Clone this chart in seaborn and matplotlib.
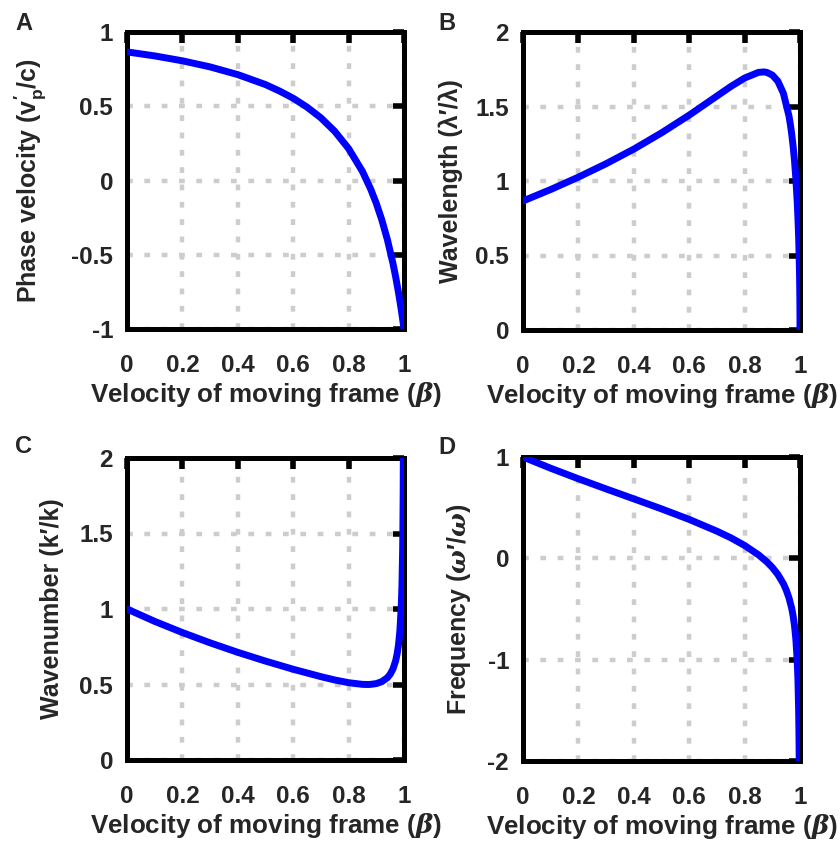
import numpy as np
import pandas as pd
import matplotlib
matplotlib.use("Agg")
import matplotlib.pyplot as plt
import seaborn as sns

# ---- data ----
beta_a = [0, 0.1, 0.2, 0.3, 0.4, 0.5, 0.55, 0.6, 0.65, 0.7, 0.75, 0.8, 0.85, 0.88, 0.9,
          0.92, 0.94, 0.96, 0.97, 0.98, 0.985, 0.99, 0.995, 0.997, 1.0]
phase_vel = [0.866, 0.839, 0.806, 0.765, 0.713, 0.646, 0.603, 0.554, 0.494, 0.422, 0.331,
             0.215, 0.061, -0.059, -0.154, -0.266, -0.398, -0.557, -0.650, -0.753, -0.810,
             -0.869, -0.933, -0.959, -1.0]

beta_b = [0, 0.1, 0.2, 0.3, 0.4, 0.5, 0.6, 0.7, 0.75, 0.8, 0.85, 0.87, 0.88, 0.9, 0.92,
          0.94, 0.96, 0.965, 0.97, 0.975, 0.98, 0.985, 0.99, 0.9925, 0.995, 0.996, 0.998,
          0.9985, 0.999, 0.9995, 0.9999, 1.0]
wavelength = [0.866, 0.943, 1.026, 1.116, 1.214, 1.323, 1.442, 1.570, 1.634, 1.691, 1.729,
              1.732, 1.729, 1.711, 1.670, 1.589, 1.438, 1.382, 1.316, 1.236, 1.140, 1.017,
              0.857, 0.753, 0.626, 0.563, 0.403, 0.350, 0.287, 0.204, 0.091, 0.0]

beta_c = [0, 0.1, 0.2, 0.3, 0.4, 0.5, 0.6, 0.7, 0.75, 0.8, 0.85, 0.87, 0.88, 0.9, 0.92,
          0.94, 0.95, 0.96, 0.97, 0.975, 0.98, 0.985, 0.99, 0.9925, 0.995, 0.996, 0.997, 0.998]
wavenumber = [1.0, 0.918, 0.844, 0.776, 0.713, 0.655, 0.601, 0.552, 0.530, 0.512, 0.501,
              0.500, 0.501, 0.506, 0.519, 0.545, 0.568, 0.602, 0.658, 0.701, 0.760, 0.852,
              1.011, 1.150, 1.384, 1.538, 1.764, 2.147]

beta_d = [0, 0.1, 0.2, 0.3, 0.4, 0.5, 0.6, 0.7, 0.75, 0.8, 0.85, 0.88, 0.9, 0.92, 0.94,
          0.95, 0.96, 0.97, 0.975, 0.98, 0.985, 0.99, 0.9925, 0.995, 0.996, 0.9965, 0.997, 0.998]
frequency = [1.0, 0.889, 0.785, 0.685, 0.587, 0.488, 0.384, 0.268, 0.203, 0.127, 0.035,
             -0.034, -0.090, -0.159, -0.250, -0.311, -0.388, -0.493, -0.566, -0.661, -0.796,
             -1.015, -1.195, -1.490, -1.680, -1.802, -1.954, -2.41]

x_ticks = [0, 0.2, 0.4, 0.6, 0.8, 1]
x_ticklabels = ["0", "0.2", "0.4", "0.6", "0.8", "1"]

yticks_a = [-1, -0.5, 0, 0.5, 1]
yticklabels_a = ["-1", "-0.5", "0", "0.5", "1"]
yticks_b = [0, 0.5, 1, 1.5, 2]
yticklabels_b = ["0", "0.5", "1", "1.5", "2"]
yticks_c = [0, 0.5, 1, 1.5, 2]
yticklabels_c = ["0", "0.5", "1", "1.5", "2"]
yticks_d = [-2, -1, 0, 1]
yticklabels_d = ["-2", "-1", "0", "1"]

panel_letters = ["A", "B", "C", "D"]
xlabel = r"Velocity of moving frame ($\mathit{\beta}$)"
ylabels = [r"Phase velocity (v$^{\prime}_{p}$/c)",
           "Wavelength (λ′/λ)",
           "Wavenumber (k′/k)",
           r"Frequency ($\mathit{\omega}$′/$\mathit{\omega}$)"]

# ---- style ----
sns.set_style("white")
plt.rcParams["font.family"] = ["Liberation Sans", "DejaVu Sans"]
plt.rcParams["font.weight"] = "bold"
plt.rcParams["mathtext.fontset"] = "custom"
plt.rcParams["mathtext.rm"] = "Liberation Sans:bold"
plt.rcParams["mathtext.bf"] = "Liberation Sans:bold"
plt.rcParams["mathtext.it"] = "DejaVu Serif:italic"
plt.rcParams["mathtext.default"] = "rm"

fig = plt.figure(figsize=(8.4, 8.41), dpi=100)

W, H = 840.0, 841.0
boxes = [(127, 32, 404, 329), (523, 32, 800, 330), (127, 458, 404, 760), (523, 457, 800, 761)]
ylabel_x = [30, 451, 52, 459]
axes = []
for (x0, y0, x1, y1) in boxes:
    axes.append(fig.add_axes([x0 / W, 1 - y1 / H, (x1 - x0) / W, (y1 - y0) / H]))

datasets = [
    (beta_a, phase_vel, (-1, 1), yticks_a, yticklabels_a),
    (beta_b, wavelength, (0, 2), yticks_b, yticklabels_b),
    (beta_c, wavenumber, (0, 2), yticks_c, yticklabels_c),
    (beta_d, frequency, (-2, 1), yticks_d, yticklabels_d),
]

FS = 17.5
for i, (ax, (bx, vals, ylim, yt, ytl)) in enumerate(zip(axes, datasets)):
    df = pd.DataFrame({"beta": bx, "value": vals})
    ax.grid(True, linestyle=(0, (1.3, 2.6)), color="#cdcdcd", linewidth=3.2, zorder=0)
    sns.lineplot(data=df, x="beta", y="value", ax=ax, color="#0000ff", linewidth=5,
                 estimator=None, sort=True, zorder=3)
    ax.set_xlim(0, 1)
    ax.set_ylim(*ylim)
    ax.set_xticks(x_ticks)
    ax.set_xticklabels(x_ticklabels)
    ax.set_yticks(yt)
    ax.set_yticklabels(ytl)
    ax.tick_params(direction="in", length=8, width=4, top=True, right=True,
                   labelsize=FS, color="black")
    ax.tick_params(axis="x", pad=18)
    ax.tick_params(axis="y", pad=10)
    for lab in ax.get_xticklabels() + ax.get_yticklabels():
        lab.set_fontweight("bold")
    for sp in ax.spines.values():
        sp.set_linewidth(3.6)
        sp.set_color("black")
        sp.set_visible(True)
    ax.set_xlabel(xlabel, fontsize=18.7, fontweight="bold", labelpad=2)
    ax.set_ylabel(ylabels[i], fontsize=18, fontweight="bold", va="center")
    x0, y0, x1, y1 = boxes[i]
    ax.yaxis.set_label_coords((ylabel_x[i] - x0) / (x1 - x0), 0.5)

letter_pos = [(15, 24), (438, 24), (15, 446), (438, 447)]
for letter, (lx, ly) in zip(panel_letters, letter_pos):
    fig.text(lx / W, 1 - ly / H, letter, fontsize=17, fontweight="bold",
             ha="left", va="center")

fig.savefig("out.png", dpi=100)
